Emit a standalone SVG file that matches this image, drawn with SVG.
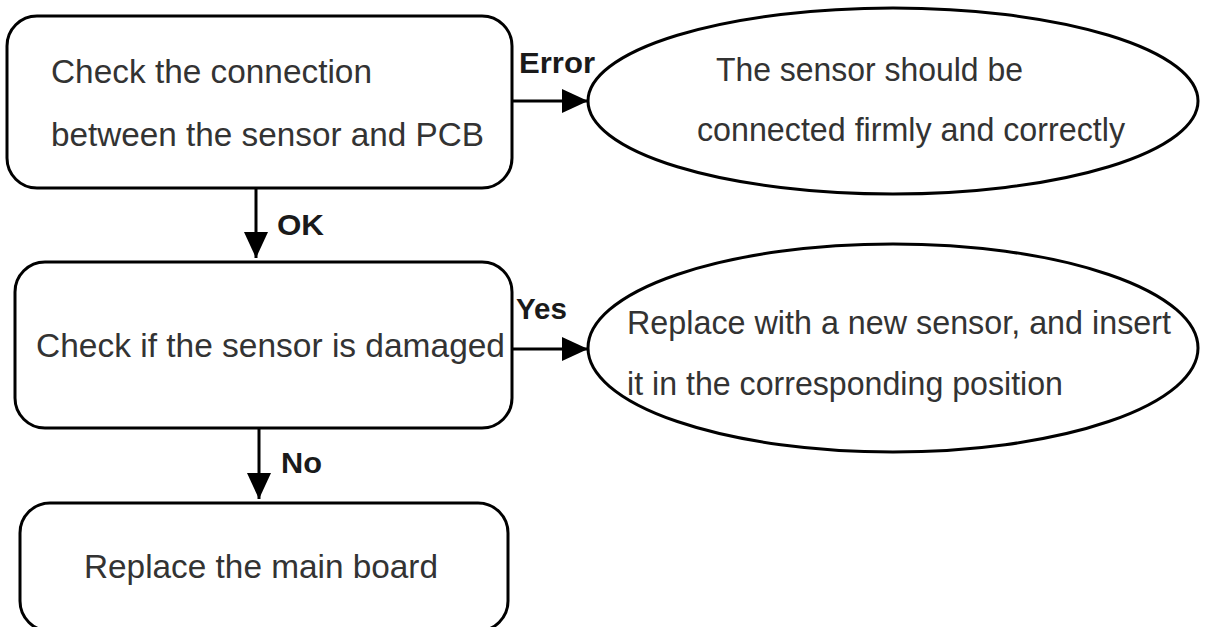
<svg xmlns="http://www.w3.org/2000/svg" width="1225" height="627" viewBox="0 0 1225 627">
<style>
.shape{fill:#fff;stroke:#000;stroke-width:3}
.t{font-family:"Liberation Sans",Arial,sans-serif;font-size:33px;fill:#333}
.lb{font-family:"Liberation Sans",Arial,sans-serif;font-size:30px;font-weight:bold;fill:#1a1a1a}
.edge{stroke:#000;stroke-width:3;fill:none}
</style>
<defs>
<marker id="ah" markerUnits="userSpaceOnUse" markerWidth="26" markerHeight="24" refX="26" refY="12" orient="auto">
<path d="M0,0 L26,12 L0,24 Z" fill="#000"/>
</marker>
</defs>
<rect width="1225" height="627" fill="#fff"/>
<g id="n1">
<rect class="shape" x="7" y="16" width="505" height="172" rx="30" ry="30"/>
<text class="t" x="51" y="83" textLength="321" lengthAdjust="spacingAndGlyphs">Check the connection</text>
<text class="t" x="51" y="146" textLength="433" lengthAdjust="spacingAndGlyphs">between the sensor and PCB</text>
</g>
<g id="n2">
<ellipse class="shape" cx="893" cy="101" rx="305" ry="93"/>
<text class="t" x="716" y="81" textLength="307" lengthAdjust="spacingAndGlyphs">The sensor should be</text>
<text class="t" x="697" y="141" textLength="428" lengthAdjust="spacingAndGlyphs">connected firmly and correctly</text>
</g>
<g id="n3">
<rect class="shape" x="15" y="262" width="497" height="166" rx="30" ry="30"/>
<text class="t" x="36" y="357" textLength="469" lengthAdjust="spacingAndGlyphs">Check if the sensor is damaged</text>
</g>
<g id="n4">
<ellipse class="shape" cx="893" cy="348" rx="305" ry="104"/>
<text class="t" x="627" y="334" textLength="544" lengthAdjust="spacingAndGlyphs">Replace with a new sensor, and insert</text>
<text class="t" x="627" y="395" textLength="436" lengthAdjust="spacingAndGlyphs">it in the corresponding position</text>
</g>
<g id="n5">
<rect class="shape" x="20" y="503" width="488" height="128" rx="30" ry="30"/>
<text class="t" x="84" y="578" textLength="354" lengthAdjust="spacingAndGlyphs">Replace the main board</text>
</g>
<g id="connectors">
<line class="edge" x1="512" y1="101" x2="588" y2="101" marker-end="url(#ah)"/>
<line class="edge" x1="256" y1="188" x2="256" y2="258" marker-end="url(#ah)"/>
<line class="edge" x1="512" y1="349" x2="588" y2="349" marker-end="url(#ah)"/>
<line class="edge" x1="259" y1="428" x2="259" y2="499" marker-end="url(#ah)"/>
<text class="lb" x="519" y="73" textLength="76" lengthAdjust="spacingAndGlyphs">Error</text>
<text class="lb" x="277" y="235" textLength="47" lengthAdjust="spacingAndGlyphs">OK</text>
<text class="lb" x="516" y="319" textLength="51" lengthAdjust="spacingAndGlyphs">Yes</text>
<text class="lb" x="281" y="473" textLength="41" lengthAdjust="spacingAndGlyphs">No</text>
</g>
</svg>
